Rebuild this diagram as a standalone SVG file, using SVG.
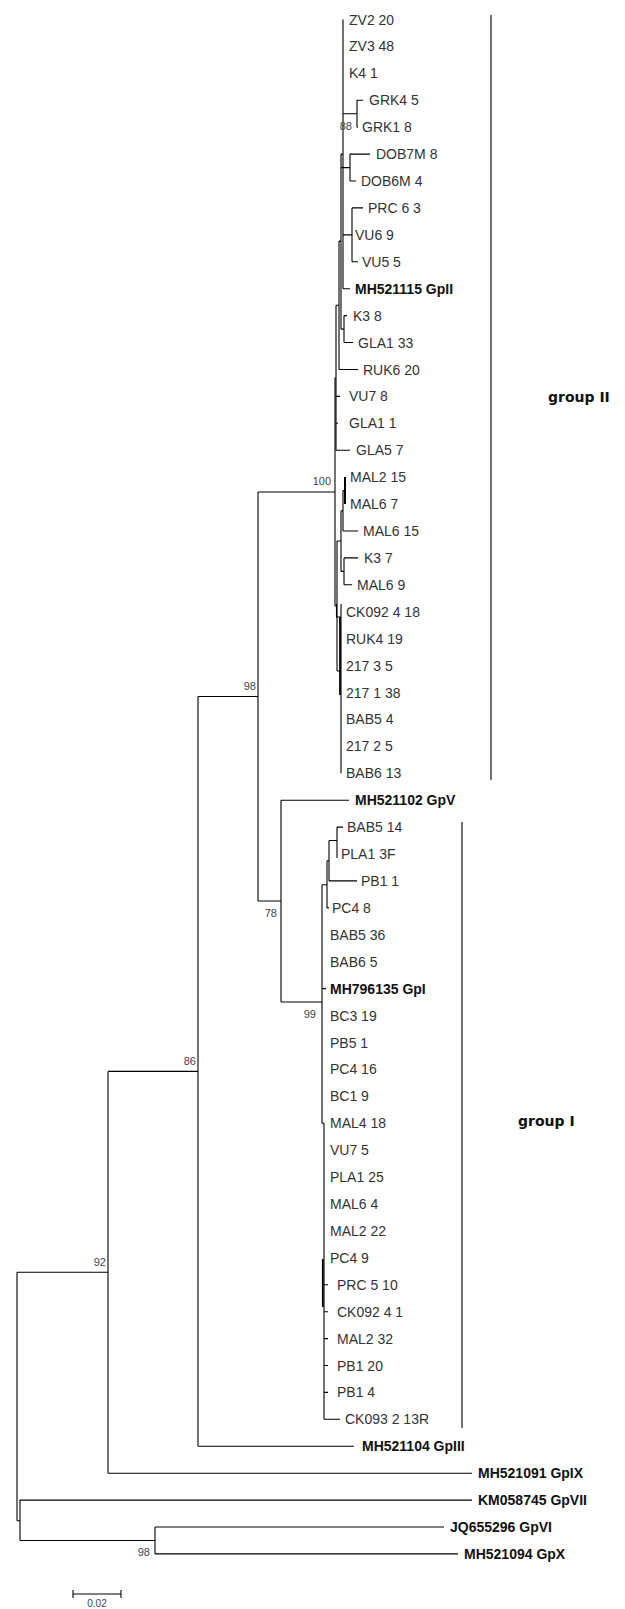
<svg xmlns="http://www.w3.org/2000/svg" width="625" height="1609" viewBox="0 0 625 1609">
<style>
.l{fill:none;stroke:#000;stroke-width:1.1}
.t{font-family:"Liberation Sans",Arial,sans-serif;font-size:14px;fill:#333}
.b{font-family:"Liberation Sans",Arial,sans-serif;font-size:14px;font-weight:bold;fill:#111}
.bs{font-family:"Liberation Sans",Arial,sans-serif;font-size:11px;fill:#444;text-anchor:end}
.g{font-family:"DejaVu Sans",Verdana,sans-serif;font-size:14px;font-weight:bold;fill:#111}
</style>
<rect width="625" height="1609" fill="#fff"/>
<g id="connectors">
<path class="l" d="M343 19.5V288.7M343 113.7H357M357 100.3V127.2M357 100.3H363M357 127.2H358M343 288.7H350"/>
<path class="l" d="M343 234.9H352M352 207.9V261.8M352 207.9H363M352 261.8H358"/>
<path class="l" d="M341 167.6H350M350 154.1V181M350 154.1H370M350 181H356"/>
<path class="l" d="M341 154.1V329.1M341 154.1H343M341 329.1H344M344 315.6V342.5M344 315.6H347M344 342.5H353"/>
<path class="l" d="M339 241.1V369.5M339 241.1H341M339 369.5H358"/>
<path class="l" d="M336 305.3V450.2M336 305.3H339M336 396.4H340M336 423.3H338M336 450.2H350"/>
<path class="l" d="M335 377.8V606M335 377.8H336M258 492H335M335 606H337"/>
<path class="l" d="M337 541V671M337 541H341M341 510.8V571.4M341 510.8H343M341 571.4H344"/>
<path class="l" d="M343 490.6V531M343 490.6H345M343 531H358"/>
<path class="l" d="M345 477.1V504.1" style="stroke-width:2"/>
<path class="l" d="M344 557.9V584.8M344 557.9H358M344 584.8H352"/>
<path class="l" d="M337 671H341M341 604V773.3M336.5 604V617H341"/>
<path class="l" d="M340 617V695" style="stroke-width:1.8"/>
<path class="l" d="M198 696.5H258M258 492V901M258 901H281M281 800.2V1002M281 800.2H349"/>
<path class="l" d="M281 1002H322M322 884.7V1123.2M322 884.7H327M327 860.7V907.9M327 907.9H329M327 860.7H329M329 840.5V880.9M329 880.9H357M329 840.5H337M337 827.1V858M337 827.1H343"/>
<path class="l" d="M322 988.6H326M322 1123.2H324M324 1123.2V1419.3M324 1419.3H340M324 1284.7H328M324 1311.7H328M324 1338.6H328M324 1365.5H328M324 1392.4H328"/>
<path class="l" d="M322.8 1259V1307" style="stroke-width:1.8"/>
<path class="l" d="M108 1071.4H198M198 696.5V1446.3M198 1446.3H354"/>
<path class="l" d="M17 1272.3H108M108 1071.4V1473.2M108 1473.2H472"/>
<path class="l" d="M17 1272.3V1520.8M17 1520.8H20M20 1500.1V1540.5M20 1500.1H472M20 1540.5H155M155 1527V1553.9M155 1527H444M155 1553.9H458"/>
<path class="l" d="M491 15V780M462 822V1428"/>
<path class="l" d="M73 1594H121M73 1590V1598M121 1590V1598"/>
</g>
<g id="bootstrap">
<text class="bs" x="352" y="130">88</text>
<text class="bs" x="331" y="485">100</text>
<text class="bs" x="256" y="690">98</text>
<text class="bs" x="277" y="917">78</text>
<text class="bs" x="316" y="1018">99</text>
<text class="bs" x="196" y="1065">86</text>
<text class="bs" x="106" y="1266">92</text>
<text class="bs" x="150" y="1556">98</text>
</g>
<g id="groupII">
<text class="t" x="349" y="24.5">ZV2 20</text>
<text class="t" x="349" y="51.4">ZV3 48</text>
<text class="t" x="349" y="78.3">K4 1</text>
<text class="t" x="369" y="105.3">GRK4 5</text>
<text class="t" x="362" y="132.2">GRK1 8</text>
<text class="t" x="376" y="159.1">DOB7M 8</text>
<text class="t" x="361" y="186">DOB6M 4</text>
<text class="t" x="368" y="212.9">PRC 6 3</text>
<text class="t" x="355" y="239.9">VU6 9</text>
<text class="t" x="362" y="266.8">VU5 5</text>
<text class="b" x="355" y="293.7">MH521115 GpII</text>
<text class="t" x="353" y="320.6">K3 8</text>
<text class="t" x="358" y="347.5">GLA1 33</text>
<text class="t" x="363" y="374.5">RUK6 20</text>
<text class="t" x="349" y="401.4">VU7 8</text>
<text class="t" x="349" y="428.3">GLA1 1</text>
<text class="t" x="356" y="455.2">GLA5 7</text>
<text class="t" x="350" y="482.1">MAL2 15</text>
<text class="t" x="350" y="509.1">MAL6 7</text>
<text class="t" x="363" y="536">MAL6 15</text>
<text class="t" x="364" y="562.9">K3 7</text>
<text class="t" x="357" y="589.8">MAL6 9</text>
<text class="t" x="346" y="616.7">CK092 4 18</text>
<text class="t" x="346" y="643.7">RUK4 19</text>
<text class="t" x="346" y="670.6">217 3 5</text>
<text class="t" x="346" y="697.5">217 1 38</text>
<text class="t" x="346" y="724.4">BAB5 4</text>
<text class="t" x="346" y="751.3">217 2 5</text>
<text class="t" x="346" y="778.3">BAB6 13</text>
</g>
<g id="gpV"><text class="b" x="355" y="805.2">MH521102 GpV</text></g>
<g id="groupI">
<text class="t" x="347" y="832.1">BAB5 14</text>
<text class="t" x="341" y="859">PLA1 3F</text>
<text class="t" x="361" y="885.9">PB1 1</text>
<text class="t" x="332" y="912.9">PC4 8</text>
<text class="t" x="330" y="939.8">BAB5 36</text>
<text class="t" x="330" y="966.7">BAB6 5</text>
<text class="b" x="330" y="993.6">MH796135 GpI</text>
<text class="t" x="330" y="1020.5">BC3 19</text>
<text class="t" x="330" y="1047.5">PB5 1</text>
<text class="t" x="330" y="1074.4">PC4 16</text>
<text class="t" x="330" y="1101.3">BC1 9</text>
<text class="t" x="330" y="1128.2">MAL4 18</text>
<text class="t" x="330" y="1155.1">VU7 5</text>
<text class="t" x="330" y="1182.1">PLA1 25</text>
<text class="t" x="330" y="1209">MAL6 4</text>
<text class="t" x="330" y="1235.9">MAL2 22</text>
<text class="t" x="330" y="1262.8">PC4 9</text>
<text class="t" x="337" y="1289.7">PRC 5 10</text>
<text class="t" x="337" y="1316.7">CK092 4 1</text>
<text class="t" x="337" y="1343.6">MAL2 32</text>
<text class="t" x="337" y="1370.5">PB1 20</text>
<text class="t" x="337" y="1397.4">PB1 4</text>
<text class="t" x="345" y="1424.3">CK093 2 13R</text>
</g>
<g id="outgroups">
<text class="b" x="362" y="1451.3">MH521104 GpIII</text>
<text class="b" x="478" y="1478.2">MH521091 GpIX</text>
<text class="b" x="478" y="1505.1">KM058745 GpVII</text>
<text class="b" x="450" y="1532">JQ655296 GpVI</text>
<text class="b" x="464" y="1558.9">MH521094 GpX</text>
</g>
<g id="labels">
<text class="g" x="548" y="402">group II</text>
<text class="g" x="518" y="1126">group I</text>
</g>
<g id="scale"><text x="97" y="1607" text-anchor="middle" style="font-family:'Liberation Sans',Arial,sans-serif;font-size:10px;fill:#444">0.02</text></g>
</svg>
